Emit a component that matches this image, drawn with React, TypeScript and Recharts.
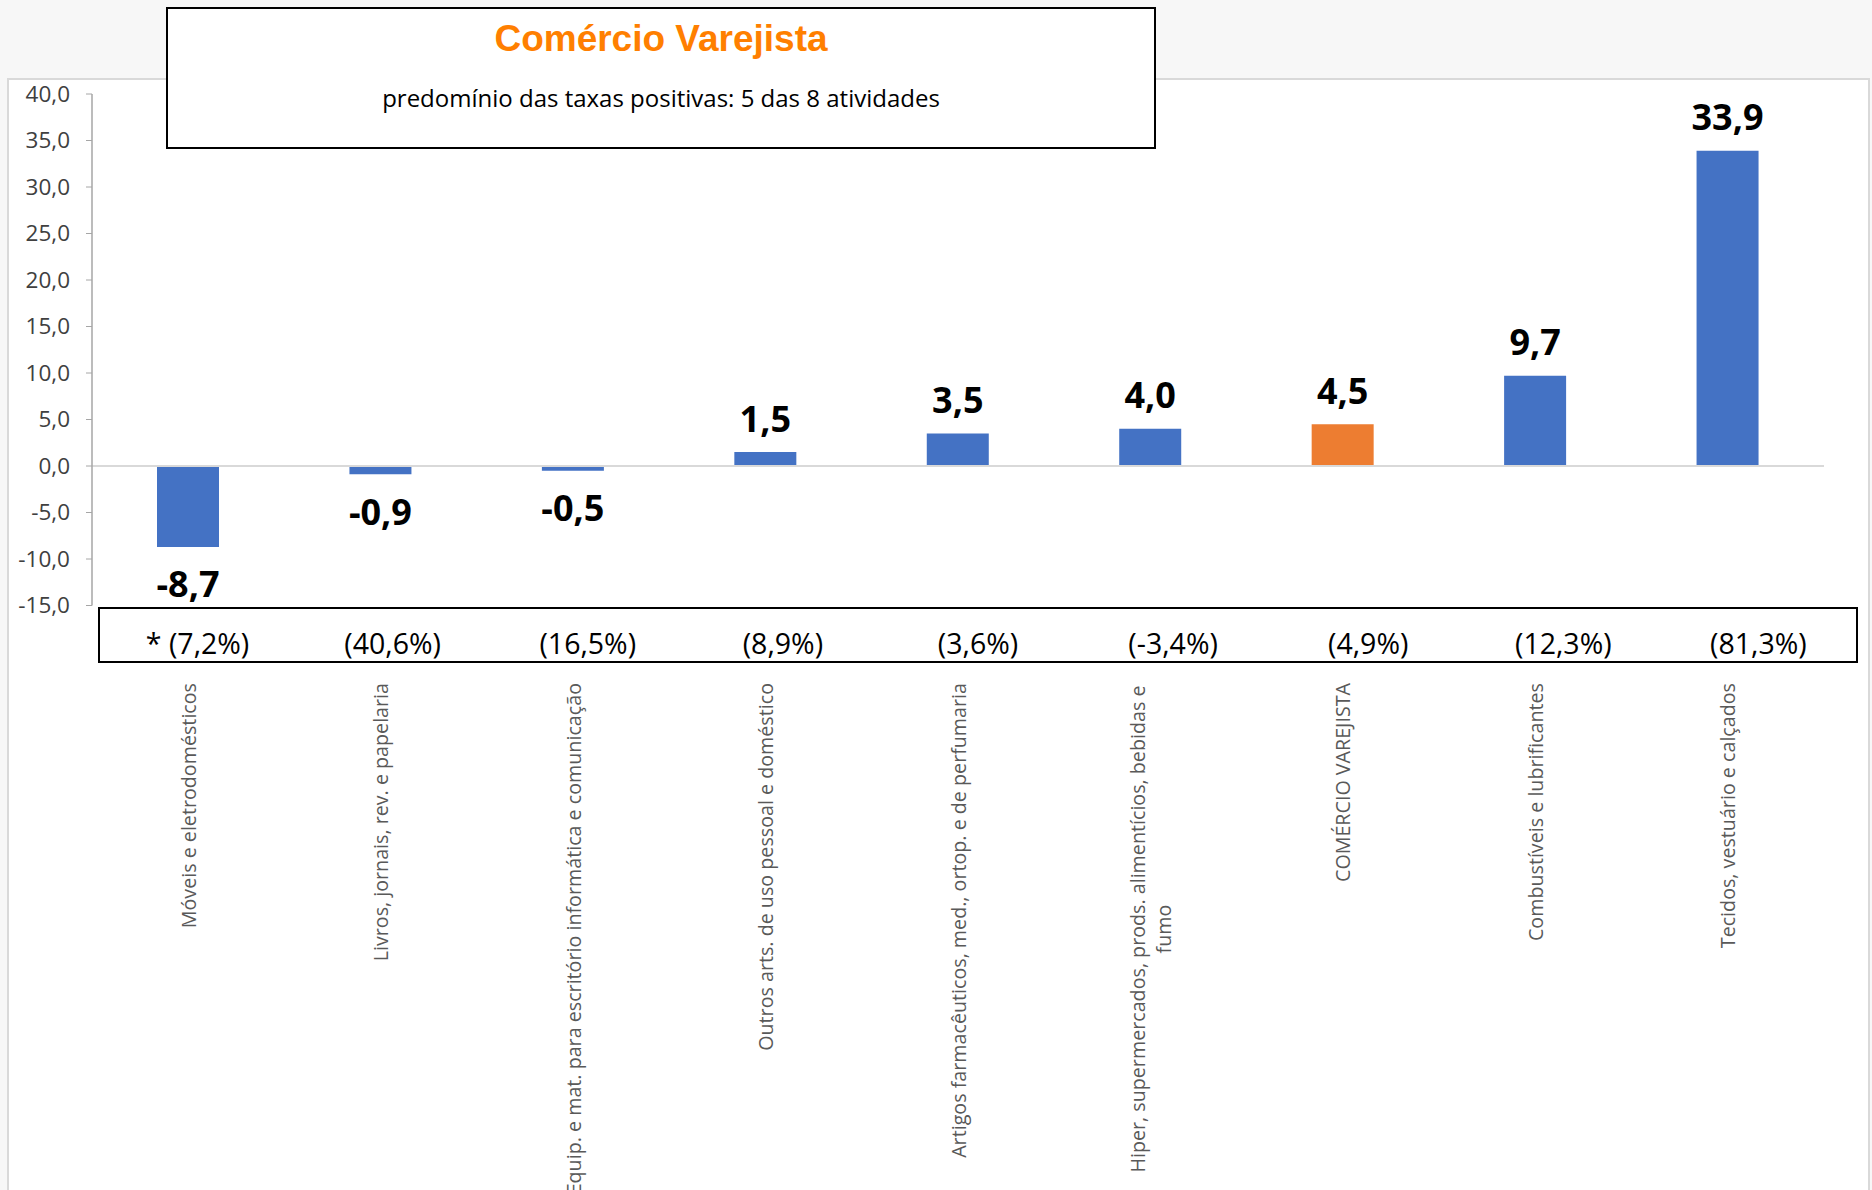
import React from "react";
import { Bar, BarChart, Cell, LabelList, ReferenceLine, XAxis, YAxis } from "recharts";

const CATEGORIES = [
  "Móveis e eletrodomésticos",
  "Livros, jornais, rev. e papelaria",
  "Equip. e mat. para escritório informática e comunicação",
  "Outros arts. de uso pessoal e doméstico",
  "Artigos farmacêuticos, med., ortop. e de perfumaria",
  "Hiper, supermercados, prods.  alimentícios, bebidas e\nfumo",
  "COMÉRCIO VAREJISTA",
  "Combustíveis e lubrificantes",
  "Tecidos, vestuário e calçados",
];
const VARIATION = [-8.7, -0.9, -0.5, 1.5, 3.5, 4.0, 4.5, 9.7, 33.9];
const WEIGHTS = ["* (7,2%)", "(40,6%)", "(16,5%)", "(8,9%)", "(3,6%)", "(-3,4%)", "(4,9%)", "(12,3%)", "(81,3%)"];
const Y_TICKS = [-15, -10, -5, 0, 5, 10, 15, 20, 25, 30, 35, 40];
const TOTAL = "COMÉRCIO VAREJISTA";

const TITLE = "Comércio Varejista";
const SUBTITLE = "predomínio das taxas positivas: 5 das 8 atividades";

const data = CATEGORIES.map((name, i) => ({ name, value: VARIATION[i] }));

const BLUE = "#4472C4";
const ORANGE = "#ED7D31";
const FONT = "'Open Sans', 'DejaVu Sans', sans-serif";
const LABEL_SIZE = 19.7;
const LABEL_TOP = 683;

const fmt = (v: number) => v.toFixed(1).replace(".", ",");

let ctx: CanvasRenderingContext2D | null = null;
function measure(text: string, font: string) {
  if (!ctx) ctx = document.createElement("canvas").getContext("2d");
  if (!ctx) return text.length * 9;
  ctx.font = font;
  return ctx.measureText(text).width;
}

function CategoryTick(props: any) {
  const { x, payload } = props;
  const lines = String(payload.value).split("\n");
  const widest = Math.max(...lines.map((l) => measure(l, `${LABEL_SIZE}px 'Open Sans'`)));
  const lh = LABEL_SIZE * 1.3;
  const cy = LABEL_TOP + widest / 2;
  return (
    <g>
      {lines.map((line, j) => {
        const cx = x + (j - (lines.length - 1) / 2) * lh;
        return (
          <text
            key={j}
            transform={`translate(${cx},${cy}) rotate(-90)`}
            textAnchor="middle"
            dominantBaseline="central"
            fontFamily={FONT}
            fontSize={LABEL_SIZE}
            fill="#595959"
          >
            {line}
          </text>
        );
      })}
    </g>
  );
}

function ValueLabel(props: any) {
  const { x, y, width, height, value } = props;
  const top = Math.min(y, y + height);
  const bottom = Math.max(y, y + height);
  const cy = value >= 0 ? top - 34 : bottom + 37;
  return (
    <text
      x={x + width / 2}
      y={cy}
      textAnchor="middle"
      dominantBaseline="central"
      fontFamily={FONT}
      fontWeight={700}
      fontSize={36}
      fill="#000"
    >
      {fmt(value)}
    </text>
  );
}

export default function App() {
  return (
    <div
      style={{
        position: "absolute",
        left: 0,
        top: 0,
        width: 1872,
        height: 1190,
        overflow: "hidden",
        background: "#f7f7f7",
        fontFamily: FONT,
      }}
    >
      <div
        style={{
          position: "absolute",
          left: 7,
          top: 78,
          width: 1863,
          height: 1112,
          background: "#fff",
          borderTop: "2px solid #d9d9d9",
          borderLeft: "2px solid #d9d9d9",
          borderRight: "2px solid #d9d9d9",
          boxSizing: "border-box",
        }}
      />
      <div style={{ position: "absolute", left: 0, top: 0 }}>
        <BarChart width={1872} height={1190} data={data} margin={{ top: 94, right: 48, bottom: 0, left: 12 }}>
          <YAxis
            domain={[-15, 40]}
            ticks={Y_TICKS}
            interval={0}
            width={80}
            tickFormatter={fmt}
            axisLine={{ stroke: "#a6a6a6", strokeWidth: 1.5 }}
            tickLine={{ stroke: "#a6a6a6" }}
            tickSize={6}
            tickMargin={16}
            tick={{ fontSize: 22.5, fill: "#404040", fontFamily: FONT }}
          />
          <XAxis
            dataKey="name"
            height={584.5}
            interval={0}
            axisLine={false}
            tickLine={false}
            tick={<CategoryTick />}
          />
          <ReferenceLine y={0} stroke="#d9d9d9" strokeWidth={2} />
          <Bar dataKey="value" barSize={62} fill={BLUE} isAnimationActive={false}>
            {data.map((d) => (
              <Cell key={d.name} fill={d.name === TOTAL ? ORANGE : BLUE} />
            ))}
            <LabelList dataKey="value" content={<ValueLabel />} />
          </Bar>
        </BarChart>
      </div>
      <div
        style={{
          position: "absolute",
          left: 166,
          top: 7,
          width: 990,
          height: 142,
          border: "2px solid #000",
          background: "#fff",
          boxSizing: "border-box",
          textAlign: "center",
        }}
      >
        <div
          style={{
            position: "absolute",
            left: 0,
            right: 0,
            top: 9,
            fontFamily: "'Liberation Sans', Arial, sans-serif",
            fontWeight: 700,
            fontSize: 37,
            lineHeight: "42px",
            color: "#FF7F00",
          }}
        >
          {TITLE}
        </div>
        <div
          style={{
            position: "absolute",
            left: 0,
            right: 0,
            top: 74,
            fontSize: 24,
            lineHeight: "30px",
            color: "#000",
          }}
        >
          {SUBTITLE}
        </div>
      </div>
      <div
        style={{
          position: "absolute",
          left: 98,
          top: 607,
          width: 1760,
          height: 56,
          border: "2px solid #000",
          boxSizing: "border-box",
          display: "flex",
          alignItems: "flex-end",
          background: "#fff",
        }}
      >
        {WEIGHTS.map((w) => (
          <div key={w} style={{ flex: 1, textAlign: "center", fontSize: 28.5, lineHeight: "36px", color: "#000" }}>
            {w}
          </div>
        ))}
      </div>
    </div>
  );
}
